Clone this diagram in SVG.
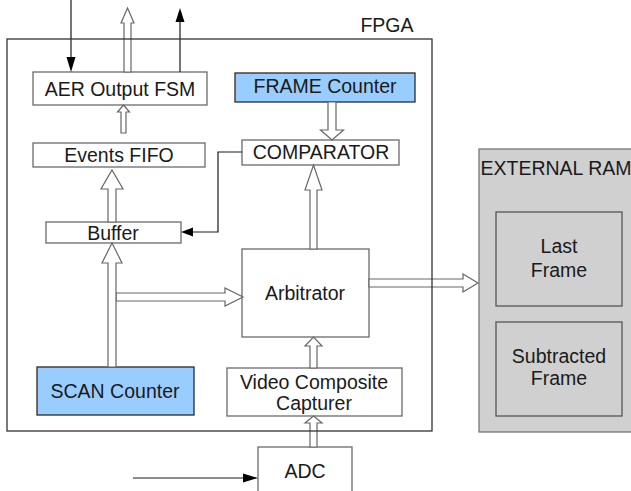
<svg xmlns="http://www.w3.org/2000/svg" width="631" height="491" viewBox="0 0 631 491">
<style>
text{font-family:"Liberation Sans",Arial,sans-serif;font-size:19.5px;fill:#1a1a1a;text-anchor:middle}
.box{fill:#fff;stroke:#6a6a6a;stroke-width:1.3}
.blue{fill:#99ccff;stroke:#2a2a2a;stroke-width:1.3}
.ram{fill:#d0d0d0;stroke:#777;stroke-width:1.3}
.inner{fill:#d0d0d0;stroke:#555;stroke-width:1.3}
.hollow{fill:#fff;stroke:#666;stroke-width:1.2;stroke-linejoin:miter}
.thin{fill:none;stroke:#1a1a1a;stroke-width:1.2}
.head{fill:#000;stroke:none}
</style>
<rect width="631" height="491" fill="#fff"/>
<g id="external-ram">
<rect class="ram" x="479" y="149" width="160" height="283"/>
<text x="556" y="175">EXTERNAL RAM</text>
</g>
<g id="last-frame">
<rect class="inner" x="496" y="212" width="126" height="94"/>
<text x="559" y="253">Last</text>
<text x="559" y="277">Frame</text>
</g>
<g id="subtracted-frame">
<rect class="inner" x="496" y="322" width="126" height="94"/>
<text x="559" y="363">Subtracted</text>
<text x="559" y="385">Frame</text>
</g>
<g id="fpga-label"><text x="387" y="32">FPGA</text></g>
<g id="aer-fsm">
<rect class="box" x="33" y="72" width="174" height="33"/>
<text x="120" y="96">AER Output FSM</text>
</g>
<g id="events-fifo">
<rect class="box" x="33" y="143" width="172" height="24"/>
<text x="119" y="162">Events FIFO</text>
</g>
<g id="buffer">
<rect class="box" x="46" y="222" width="135" height="21"/>
<text x="113" y="240">Buffer</text>
</g>
<g id="frame-counter">
<rect class="blue" x="235" y="73" width="180" height="29"/>
<text x="325" y="93">FRAME Counter</text>
</g>
<g id="comparator">
<rect class="box" x="242" y="140" width="157" height="25"/>
<text x="321" y="159">COMPARATOR</text>
</g>
<g id="arbitrator">
<rect class="box" x="242" y="249" width="127" height="88"/>
<text x="305" y="300">Arbitrator</text>
</g>
<g id="scan-counter">
<rect class="blue" x="37" y="367" width="157" height="48"/>
<text x="115" y="398">SCAN Counter</text>
</g>
<g id="video-capturer">
<rect class="box" x="227" y="368" width="175" height="48"/>
<text x="314" y="389">Video Composite</text>
<text x="314" y="410">Capturer</text>
</g>
<g id="adc">
<rect class="box" x="258" y="447" width="94" height="60"/>
<text x="305" y="478">ADC</text>
</g>
<g id="connectors">
<path class="thin" d="M71,0 V58"/>
<polygon class="head" points="66.5,57 75.5,57 71,72"/>
<path class="thin" d="M180,72 V21"/>
<polygon class="head" points="175.5,22 184.5,22 180,8"/>
<path class="thin" d="M242,152 H218 V232 H192"/>
<polygon class="head" points="193,227.5 193,236.5 181,232"/>
<path class="thin" d="M133,478 H245"/>
<polygon class="head" points="243,473.5 243,482.5 258,478"/>
<polygon class="hollow" points="124,72 124,23 121,23 127.5,8 134,23 131,23 131,72"/>
<polygon class="hollow" points="121,133 121,112 117.5,112 123.5,105 129.5,112 126,112 126,133"/>
<polygon class="hollow" points="108,222 108,189 101,189 112,170 123,189 116,189 116,222"/>
<polygon class="hollow" points="116,293 225,293 225,288 243,297 225,306 225,301 116,301"/>
<polygon class="hollow" points="108,367 108,263 102,263 112,243 122,263 116,263 116,367"/>
<polygon class="hollow" points="328,102 328,130 320.5,130 332,140 343.5,130 336,130 336,102"/>
<polygon class="hollow" points="310,249 310,190 305,190 313.5,165 322,190 317,190 317,249"/>
<polygon class="hollow" points="310,368 310,346 305,346 313.5,337 322,346 317,346 317,368"/>
<polygon class="hollow" points="310,447 310,423 305,423 313.5,416 322,423 317,423 317,447"/>
<polygon class="hollow" points="369,279 463,279 463,274 478,283 463,292 463,287 369,287"/>
</g>
<g id="fpga">
<rect x="7" y="39" width="425" height="392" fill="none" stroke="#333" stroke-width="1.3"/>
</g>
</svg>
